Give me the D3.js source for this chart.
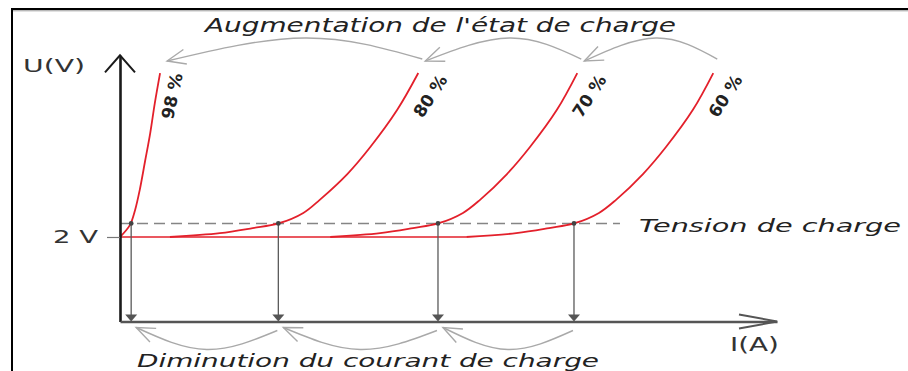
<!DOCTYPE html>
<html>
<head>
<meta charset="utf-8">
<script src="https://cdn.jsdelivr.net/npm/d3@7"></script>
<style>
  html, body { margin: 0; padding: 0; background: #fff; }
  svg { display: block; font-family: "DejaVu Sans", sans-serif; }
</style>
</head>
<body>
<script>
// ---------------- data ----------------
const states = ["98 %", "80 %", "70 %", "60 %"];

// I (A, arbitrary units) and U (V) along each charge curve
const curveI98 = [0.00, 0.15, 0.23, 0.30, 0.38, 0.46, 0.53, 0.61];
const curveU98 = [2.00, 2.28, 2.64, 3.11, 3.78, 4.46, 5.17, 5.88];
const curveI80 = [0.76, 1.52, 2.02, 2.41, 2.79, 3.04, 3.46, 3.81, 4.22, 4.54];
const curveU80 = [2.00, 2.09, 2.21, 2.32, 2.57, 2.88, 3.49, 4.13, 5.01, 5.88];
const curveI70 = [3.20, 3.96, 4.46, 4.84, 5.22, 5.48, 5.89, 6.24, 6.65, 6.96];
const curveU70 = [2.00, 2.09, 2.21, 2.32, 2.57, 2.88, 3.49, 4.13, 5.01, 5.88];
const curveI60 = [5.27, 6.03, 6.53, 6.91, 7.29, 7.55, 7.96, 8.31, 8.72, 9.03];
const curveU60 = [2.00, 2.09, 2.21, 2.32, 2.57, 2.88, 3.49, 4.13, 5.01, 5.88];

const nominalVoltage = 2.0;   // "2 V"
const chargeVoltage = 2.32;   // "Tension de charge"
const chargeCurrent = [0.17, 2.41, 4.84, 6.91]; // current where each curve meets the charge voltage
const chargeLineEnd = 7.61;

const yTickValues = [nominalVoltage];
const xTickValues = [];

const titleTop = "Augmentation de l'état de charge";
const titleBottom = "Diminution du courant de charge";
const chargeLabel = "Tension de charge";
const yLabel = "U(V)";
const xLabel = "I(A)";

// ---------------- drawing ----------------
const W = 908, H = 371;
const RED = "#e3202b";
const svg = d3.select("body").append("svg").attr("width", W).attr("height", H);

const x = d3.scaleLinear().domain([0, 10]).range([120, 777]);
const y = d3.scaleLinear().domain([0, 6.3]).range([321.5, 55.3]);

// frame
svg.append("line").attr("x1", 11).attr("x2", W).attr("y1", 9).attr("y2", 9)
  .attr("stroke", "#000").attr("stroke-width", 2);
svg.append("line").attr("x1", 11).attr("x2", W).attr("y1", 10.8).attr("y2", 10.8)
  .attr("stroke", "#9a9a9a").attr("stroke-width", 1);
svg.append("line").attr("x1", 12).attr("x2", 12).attr("y1", 8).attr("y2", H)
  .attr("stroke", "#000").attr("stroke-width", 2);

const series = states.map((s, i) => ({
  label: s,
  pts: d3.zip([curveI98, curveI80, curveI70, curveI60][i], [curveU98, curveU80, curveU70, curveU60][i])
}));

// red 2 V baseline
svg.append("line")
  .attr("x1", x(0)).attr("x2", x(curveI60[0]))
  .attr("y1", y(nominalVoltage)).attr("y2", y(nominalVoltage))
  .attr("stroke", RED).attr("stroke-width", 1.3);

// dashed charge voltage
svg.append("line")
  .attr("x1", x(0)).attr("x2", x(chargeLineEnd))
  .attr("y1", y(chargeVoltage)).attr("y2", y(chargeVoltage))
  .attr("stroke", "#858585").attr("stroke-width", 1.6).attr("stroke-dasharray", "11,6");

// curves
const line = d3.line().x(d => x(d[0])).y(d => y(d[1])).curve(d3.curveCatmullRom.alpha(0.5));
svg.append("g").selectAll("path").data(series).join("path")
  .attr("d", d => line(d.pts))
  .attr("fill", "none").attr("stroke", RED).attr("stroke-width", 1.8);

// drop lines with filled arrowheads
const drops = svg.append("g");
chargeCurrent.forEach(c => {
  const xc = x(c), y0 = y(0), yc = y(chargeVoltage);
  drops.append("line").attr("x1", xc).attr("x2", xc).attr("y1", yc).attr("y2", y0 - 5)
    .attr("stroke", "#5a5a5a").attr("stroke-width", 1.3);
  drops.append("path").attr("d", `M${xc - 6},${y0 - 7} L${xc + 6},${y0 - 7} L${xc},${y0} Z`)
    .attr("fill", "#555");
  drops.append("circle").attr("cx", xc).attr("cy", yc).attr("r", 2.4).attr("fill", "#444");
});

// axes
const yAxis = d3.axisLeft(y).tickValues(yTickValues).tickFormat(d => d + " V")
  .tickSize(13).tickSizeOuter(0).tickPadding(9);
const gy = svg.append("g").attr("transform", `translate(${x(0)},0)`).call(yAxis);
gy.select(".domain").attr("stroke", "#1a1a1a").attr("stroke-width", 2.6);
gy.selectAll(".tick line").attr("stroke", "#777").attr("stroke-width", 1.2);
gy.selectAll(".tick text").attr("font-size", 17).attr("fill", "#333")
  .attr("font-family", "DejaVu Sans").attr("textLength", 45).attr("lengthAdjust", "spacingAndGlyphs");

const xAxis = d3.axisBottom(x).tickValues(xTickValues).tickSizeOuter(0);
const gx = svg.append("g").attr("transform", `translate(0,${y(0)})`).call(xAxis);
gx.select(".domain").attr("stroke", "#555").attr("stroke-width", 2.6);

// axis arrowheads
const yTop = y(6.3), x0 = x(0);
svg.append("path").attr("d", `M${x0 - 15},${yTop + 17} L${x0},${yTop} L${x0 + 15},${yTop + 17}`)
  .attr("fill", "none").attr("stroke", "#1a1a1a").attr("stroke-width", 2);
const xEnd = x(10), yb = y(0);
svg.append("path").attr("d", `M${xEnd - 38},${yb - 7} L${xEnd},${yb} L${xEnd - 38},${yb + 7}`)
  .attr("fill", "none").attr("stroke", "#555").attr("stroke-width", 2);

// axis labels
svg.append("text").attr("x", 23).attr("y", 72).attr("font-size", 18).attr("fill", "#333")
  .attr("textLength", 62).attr("lengthAdjust", "spacingAndGlyphs").text(yLabel);
svg.append("text").attr("x", 730).attr("y", 351).attr("font-size", 19).attr("fill", "#333")
  .attr("textLength", 49).attr("lengthAdjust", "spacingAndGlyphs").text(xLabel);

// percentage labels
series.forEach((s, i) => {
  const top = s.pts[s.pts.length - 1];
  const cx = x(top[0]) + 12, cy = y(top[1]) + 23;
  svg.append("text")
    .attr("transform", `translate(${cx},${cy}) rotate(${i === 0 ? -78 : -57})`)
    .attr("text-anchor", "middle").attr("dy", "0.35em")
    .attr("font-size", 17).attr("font-weight", "bold").attr("fill", "#222")
    .text(s.label);
});

// curved grey arrows
const arc = d3.line().curve(d3.curveNatural);
function curvedArrow(p0, p1, p2) {
  const path = svg.append("path").attr("d", arc([p0, p1, p2]))
    .attr("fill", "none").attr("stroke", "#a9a9a9").attr("stroke-width", 1.4);
  const node = path.node();
  const L = node.getTotalLength();
  const e = node.getPointAtLength(L);
  const b = node.getPointAtLength(L - 8);
  const ang = Math.atan2(b.y - e.y, b.x - e.x);
  const len = 20, spread = 22 * Math.PI / 180;
  const a1 = [e.x + len * Math.cos(ang - spread), e.y + len * Math.sin(ang - spread)];
  const a2 = [e.x + len * Math.cos(ang + spread), e.y + len * Math.sin(ang + spread)];
  svg.append("path").attr("d", `M${a1[0]},${a1[1]} L${e.x},${e.y} L${a2[0]},${a2[1]}`)
    .attr("fill", "none").attr("stroke", "#a9a9a9").attr("stroke-width", 1.4);
}

// top: from each curve top to the next higher state of charge
for (let k = 0; k < series.length - 1; k++) {
  const tFrom = series[k + 1].pts[series[k + 1].pts.length - 1];
  const tTo = series[k].pts[series[k].pts.length - 1];
  const s = [x(tFrom[0]) + 4, y(tFrom[1]) - 14];
  const e = [x(tTo[0]) + 7, y(tTo[1]) - 12];
  const m = [s[0] - 0.46 * (s[0] - e[0]), 38];
  curvedArrow(s, m, e);
}
// bottom: from each drop point to the previous one
for (let k = 0; k < chargeCurrent.length - 1; k++) {
  const s = [x(chargeCurrent[k + 1]) - 1, y(0) + 9];
  const e = [x(chargeCurrent[k]) + 5, y(0) + 6];
  const m = [s[0] - 0.5 * (s[0] - e[0]), y(0) + 28];
  curvedArrow(s, m, e);
}

// titles / annotations
svg.append("text").attr("x", 205).attr("y", 32).attr("font-size", 20).attr("font-style", "italic")
  .attr("fill", "#222").attr("textLength", 471).attr("lengthAdjust", "spacingAndGlyphs").text(titleTop);
svg.append("text").attr("x", 137).attr("y", 366.5).attr("font-size", 18.5).attr("font-style", "italic")
  .attr("fill", "#222").attr("textLength", 462).attr("lengthAdjust", "spacingAndGlyphs").text(titleBottom);
svg.append("text").attr("x", 639).attr("y", 232).attr("font-size", 17).attr("font-style", "italic")
  .attr("fill", "#222").attr("textLength", 262).attr("lengthAdjust", "spacingAndGlyphs").text(chargeLabel);
</script>
</body>
</html>
